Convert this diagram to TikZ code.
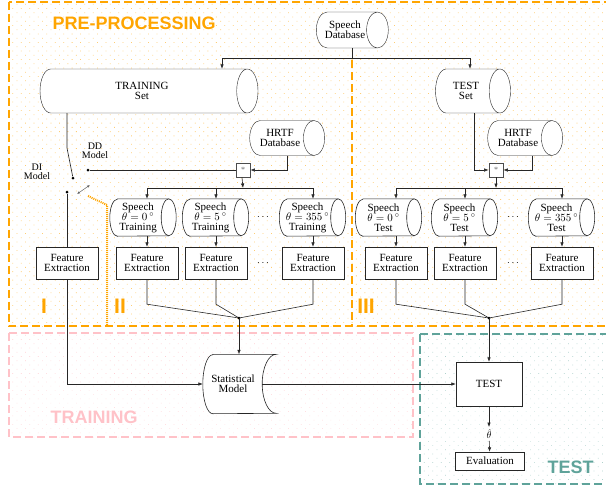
\documentclass[tikz,border=0pt]{standalone}
\usepackage{fontspec}
\setmainfont{Liberation Serif}
\newfontfamily\labelfont{Liberation Sans}
\usetikzlibrary{positioning,arrows.meta,shapes.geometric,patterns.meta}
\definecolor{pre}{HTML}{FFA500}
\definecolor{trn}{HTML}{FFC2C8}
\definecolor{tst}{HTML}{5FA39A}
\tikzset{
  db/.style     = {cylinder, draw=black!85, fill=white, aspect=1.1, align=center,
                   inner sep=1pt, font=\fontsize{11}{10}\selectfont},
  spch/.style   = {rectangle, minimum width=66pt, minimum height=37pt, inner sep=0pt},
  sptxt/.style  = {align=center, inner sep=0pt, font=\fontsize{11}{10}\selectfont},
  fex/.style    = {rectangle, draw=black!85, fill=white, align=center, inner sep=1pt,
                   minimum width=62pt, minimum height=32pt, font=\fontsize{11}{10}\selectfont},
  mult/.style   = {rectangle, draw=black!70, line width=0.8pt, fill=white, minimum size=14pt,
                   inner sep=0pt, font=\footnotesize, text=black!60},
  flow/.style   = {-{Latex[length=4.5pt,width=3.5pt]}, draw=black!85, line width=0.6pt},
  wire/.style   = {draw=black!85, line width=0.6pt},
  junction/.style = {circle, fill=black, inner sep=0pt, minimum size=3pt},
  region/.style = {line width=2pt, dash pattern=on 8pt off 4pt},
  regtitle/.style = {font=\labelfont\bfseries\fontsize{18}{18}\selectfont, anchor=west},
  stage/.style  = {font=\labelfont\bfseries\fontsize{21}{21}\selectfont, text=pre},
  swlbl/.style  = {font=\fontsize{10}{9}\selectfont, align=center, inner sep=0pt},
}
\begin{document}
\begin{tikzpicture}[x=1pt, y=1pt]
  \clip (0,0) rectangle (606,-488);
  \draw[region, draw=pre, pattern={Dots[radius=0.55pt,distance=6pt,angle=45]}, pattern color=pre!55]
    (9,-1.5) rectangle (640,-326);
  \draw[region, draw=trn, line width=1.5pt, pattern={Dots[radius=0.45pt,distance=6pt,angle=45]}, pattern color=trn!80]
    (9,-333) rectangle (413,-437);
  \draw[region, draw=tst, pattern={Dots[radius=0.45pt,distance=6pt,angle=45]}, pattern color=tst!50]
    (420,-334) rectangle (640,-484);
  \draw[region, draw=pre] (352,-60) -- (352,-326);

  \node[regtitle, text=pre] (pretitle) at (49,-23) {PRE-PROCESSING};
  \node[regtitle, text=trn] (trntitle) at (47,-417) {TRAINING};
  \node[regtitle, text=tst] (tsttitle) at (544,-467) {TEST};
  \node[stage] (st1) at (44,-306) {I};
  \node[stage] (st2) at (120,-306) {II};
  \node[stage] (st3) at (366,-306) {III};

  \node[db, minimum height=72pt, minimum width=36pt] (speechdb) at (345,-30) {Speech\\Database};
  \node[db, minimum height=218pt, minimum width=44pt] (trainset) at (142,-91) {TRAINING\\Set};
  \node[db, minimum height=75pt, minimum width=44pt] (testset) at (466,-91) {TEST\\Set};
  \node[db, minimum height=75pt, minimum width=35pt] (hrtfL) at (280,-138) {HRTF\\Database};
  \node[db, minimum height=75pt, minimum width=35pt] (hrtfR) at (518,-138) {HRTF\\Database};
  \node[mult] (starL) at (243,-170) {*};
  \node[mult] (starR) at (496,-170) {*};

  \node[spch] (spTr1) at (143,-217.5) {};
  \node[spch] (spTr2) at (215.5,-217.5) {};
  \node[spch] (spTr3) at (312.5,-217.5) {};
  \node[spch] (spTe1) at (388.5,-217.5) {};
  \node[spch] (spTe2) at (464.5,-217.5) {};
  \node[spch] (spTe3) at (561.5,-217.5) {};
  \foreach \n in {Tr1,Tr2,Tr3,Te1,Te2,Te3}{
    \draw[wire, fill=white] ([xshift=7.5pt]sp\n.north west) -- ([xshift=-7.5pt]sp\n.north east)
      arc[start angle=90, end angle=-90, x radius=7.5pt, y radius=18.5pt]
      -- ([xshift=7.5pt]sp\n.south west)
      arc[start angle=270, end angle=90, x radius=7.5pt, y radius=18.5pt] -- cycle;
    \draw[wire] ([xshift=-7.5pt]sp\n.north east)
      arc[start angle=90, end angle=270, x radius=7.5pt, y radius=18.5pt];
  }
  \node[sptxt] (spTr1t) at ([xshift=-5pt]spTr1.center) {Speech\\$\theta=0\,{}^\circ$\\Training};
  \node[sptxt] (spTr2t) at ([xshift=-5pt]spTr2.center) {Speech\\$\theta=5\,{}^\circ$\\Training};
  \node[sptxt] (spTr3t) at ([xshift=-5pt]spTr3.center) {Speech\\$\theta=355\,{}^\circ$\\Training};
  \node[sptxt] (spTe1t) at ([xshift=-5pt]spTe1.center) {Speech\\$\theta=0\,{}^\circ$\\Test};
  \node[sptxt] (spTe2t) at ([xshift=-5pt]spTe2.center) {Speech\\$\theta=5\,{}^\circ$\\Test};
  \node[sptxt] (spTe3t) at ([xshift=-5pt]spTe3.center) {Speech\\$\theta=355\,{}^\circ$\\Test};
  \node (dotsTr1) at (263,-217) {$\cdots$};
  \node (dotsTe1) at (513,-217) {$\cdots$};

  \node[fex] (feDI) at (67,-263) {Feature\\Extraction};
  \node[fex] (feTr1) at (147,-263) {Feature\\Extraction};
  \node[fex] (feTr2) at (216,-263) {Feature\\Extraction};
  \node[fex] (feTr3) at (313,-263) {Feature\\Extraction};
  \node[fex] (feTe1) at (396,-263) {Feature\\Extraction};
  \node[fex] (feTe2) at (465,-263) {Feature\\Extraction};
  \node[fex] (feTe3) at (562,-263) {Feature\\Extraction};
  \node (dotsTr2) at (263,-263) {$\cdots$};
  \node (dotsTe2) at (513,-263) {$\cdots$};

  \node[inner sep=0pt, minimum width=60pt, minimum height=59pt] (model) at (233,-384) {};
  \draw[wire, fill=white] ([xshift=10pt]model.north west) -- ([xshift=13pt]model.north east)
    arc[start angle=90, end angle=270, x radius=14pt, y radius=29.5pt]
    -- ([xshift=10pt]model.south west)
    arc[start angle=-90, end angle=-270, x radius=10pt, y radius=29.5pt] -- cycle;
  \node[inner sep=0pt, align=center, font=\fontsize{11}{10}\selectfont] (modeltxt) at (model) {Statistical\\Model};
  \node[fex, minimum width=66pt, minimum height=44pt] (testbox) at (489,-384) {TEST};
  \node[inner sep=2pt] (thetahat) at (489,-434) {$\hat{\theta}$};
  \node[fex, minimum width=69pt, minimum height=18pt] (eval) at (490,-461) {Evaluation};

  \node[swlbl] (ddlbl) at (95,-151) {DD\\Model};
  \node[swlbl] (dilbl) at (37,-172) {DI\\Model};
  \coordinate (swtop) at (67,-148);
  \node[junction] (blade) at (73,-178) {};
  \node[junction] (ddc) at (88,-170) {};
  \node[junction] (dic) at (67,-192) {};
  \coordinate (sw1) at (77,-194);
  \coordinate (sw2) at (90,-185);
  \coordinate (busTop) at (352,-58);
  \coordinate (busL) at (243,-188);
  \coordinate (busR) at (496,-188);
  \coordinate (mergeTr) at (239,-318);
  \coordinate (mergeTe) at (489,-318);

  \draw[wire] (speechdb.south -| busTop) -- (busTop);
  \draw[flow] (busTop) -| ([xshift=80pt]trainset.north);
  \draw[flow] (busTop) -| ([xshift=4pt]testset.north);
  \draw[wire] (trainset.south -| swtop) -- (swtop) -- (blade);
  \draw[wire] (ddc) -- (starL.west);
  \draw[wire] (dic) -- (feDI);
  \draw[{Latex[length=3pt,width=2.5pt]}-{Latex[length=3pt,width=2.5pt]}, black!60, line width=0.5pt] (sw1) -- (sw2);
  \draw[pre, line width=2pt, dash pattern=on 1pt off 1pt] (88,-196) -- (107,-205) -- (107,-326);

  \draw[flow] ([xshift=7pt]hrtfL.south) |- (starL.east);
  \draw[flow] ([xshift=-1pt]starL.south) -- (busL);
  \foreach \n in {Tr1,Tr2,Tr3}
    \draw[flow] (busL) -| (sp\n.north -| fe\n);
  \draw[flow] ([xshift=8pt]testset.south) |- (starR.west);
  \draw[flow] ([xshift=14pt]hrtfR.south) |- (starR.east);
  \draw[flow] (starR) -- (busR);
  \foreach \n in {Te1,Te2,Te3}
    \draw[flow] (busR) -| (sp\n.north -| fe\n);

  \foreach \n in {Tr1,Tr2,Tr3,Te1,Te2,Te3}
    \draw[flow] (sp\n.south -| fe\n) -- (fe\n);
  \foreach \n in {Tr1,Tr2,Tr3}
    \draw[wire] (fe\n.south) -- ++(0,-25) -- (mergeTr);
  \foreach \n in {Te1,Te2,Te3}
    \draw[wire] (fe\n.south) -- ++(0,-25) -- (mergeTe);
  \fill (mergeTr) circle (1.5pt);
  \fill (mergeTe) circle (1.5pt);
  \draw[flow] (mergeTr) -- (mergeTr |- model.north);
  \draw[flow] (mergeTe) -- (testbox);
  \draw[flow] (feDI.south) |- (model.west);
  \draw[flow] ([xshift=-1pt]model.east) -- (testbox.west);
  \draw[flow] (testbox) -- (thetahat);
  \draw[flow] (thetahat) -- (eval);
\end{tikzpicture}
\end{document}
